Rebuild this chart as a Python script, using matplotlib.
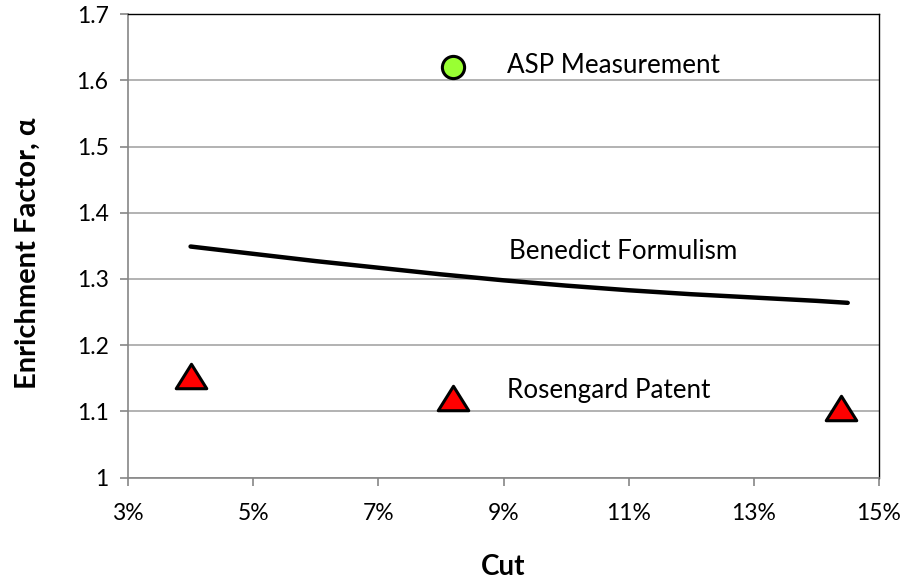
import matplotlib
matplotlib.use("Agg")
import matplotlib.pyplot as plt
from matplotlib.path import Path
from matplotlib.ticker import FuncFormatter

plt.rcParams['font.family'] = ['Lato', 'DejaVu Sans']

# Data (cut in %, enrichment factor alpha)
benedict_cut = [4.0, 5.0, 6.0, 7.0, 8.0, 9.0, 10.0, 11.0, 12.0, 13.0, 14.0, 14.5]
benedict_alpha = [1.349, 1.338, 1.327, 1.317, 1.307, 1.298, 1.290, 1.283, 1.277, 1.272, 1.267, 1.264]

asp_cut = [8.2]
asp_alpha = [1.620]

rosengard_cut = [4.0, 8.2, 14.4]
rosengard_alpha = [1.153, 1.121, 1.105]

x_ticks = [3, 5, 7, 9, 11, 13, 15]
y_ticks = [1.0, 1.1, 1.2, 1.3, 1.4, 1.5, 1.6, 1.7]

labels = ["ASP Measurement", "Benedict Formulism", "Rosengard Patent"]
label_x = [9.05, 9.08, 9.05]
label_y = [1.622, 1.341, 1.132]

fig = plt.figure(figsize=(9.0, 5.82), dpi=100)
ax = fig.add_axes([0.1422, 0.1792, 0.8345, 0.7967])

ax.set_xlim(3, 15)
ax.set_ylim(1.0, 1.7)
ax.set_xticks(x_ticks)
ax.set_yticks(y_ticks)
ax.xaxis.set_major_formatter(FuncFormatter(lambda v, p: f"{v:.0f}%"))
ax.yaxis.set_major_formatter(FuncFormatter(lambda v, p: "1" if abs(v - 1) < 1e-9 else f"{v:.1f}"))

ax.grid(axis='y', color='#a6a6a6', linewidth=1.2, zorder=0)
ax.set_axisbelow(True)

for s in ['left', 'bottom']:
    ax.spines[s].set_color('#868686')
    ax.spines[s].set_linewidth(1.2)
for s in ['top', 'right']:
    ax.spines[s].set_color('#000000')
    ax.spines[s].set_linewidth(1.0)

ax.tick_params(axis='both', direction='out', length=6, width=1.2, color='#868686',
               labelsize=16.5, labelcolor='black')
ax.tick_params(axis='x', pad=12)
ax.tick_params(axis='y', pad=8)

ax.plot(benedict_cut, benedict_alpha, color='black', linewidth=3.2,
        solid_capstyle='round', zorder=3)

tri = Path([(-1.0, -0.8), (1.0, -0.8), (0.0, 0.8), (-1.0, -0.8)],
           [Path.MOVETO, Path.LINETO, Path.LINETO, Path.CLOSEPOLY])
ax.plot(rosengard_cut, rosengard_alpha, linestyle='none', marker=tri, markersize=22,
        markerfacecolor='#ff0000', markeredgecolor='black', markeredgewidth=2.2, zorder=4)

ax.plot(asp_cut, asp_alpha, linestyle='none', marker='o', markersize=16,
        markerfacecolor='#99ff33', markeredgecolor='black', markeredgewidth=2.2, zorder=4)

for t, x, y in zip(labels, label_x, label_y):
    ax.text(x, y, t, fontsize=18.7, ha='left', va='center', color='black', zorder=5)

ax.set_xlabel("Cut", fontsize=20, fontweight='bold')
ax.set_ylabel("Enrichment Factor, α", fontsize=21, fontweight='bold')
ax.xaxis.set_label_coords(0.5, -0.164)
ax.yaxis.set_label_coords(-0.116, 0.485)

fig.savefig("out.png", dpi=100)
